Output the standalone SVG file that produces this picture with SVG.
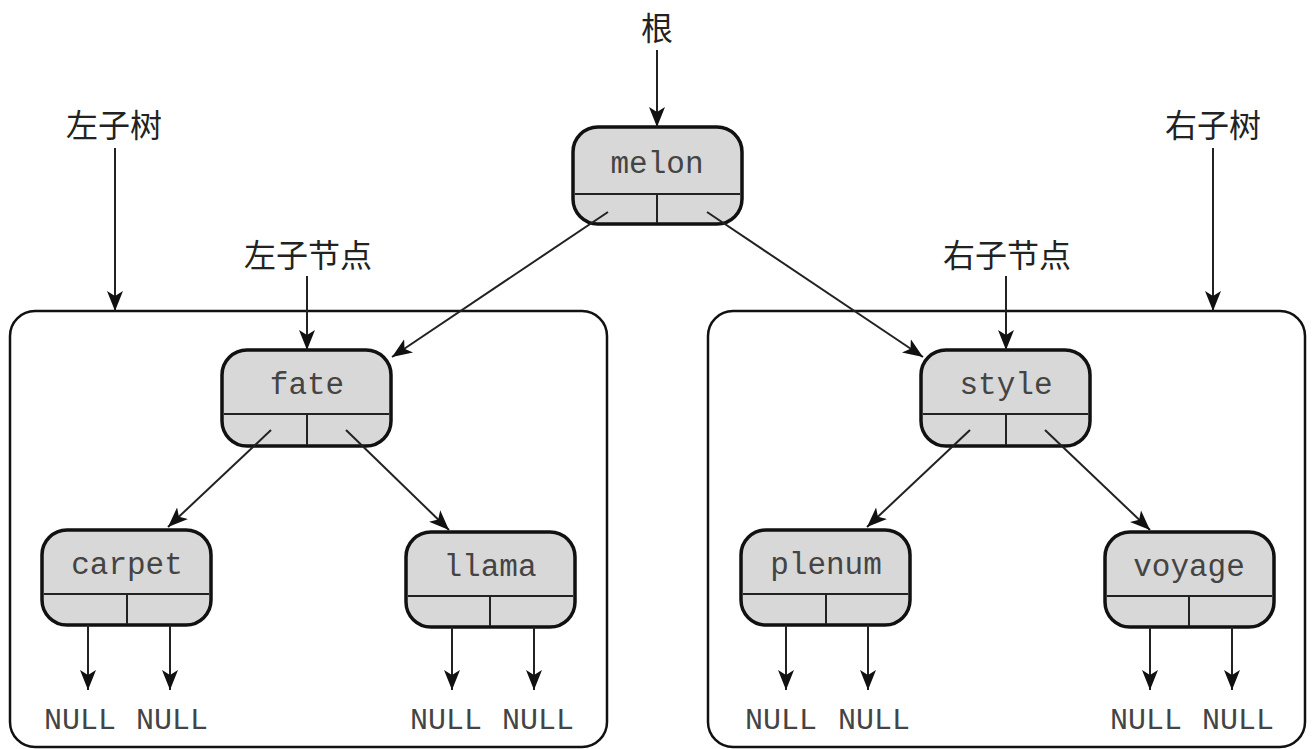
<svg xmlns="http://www.w3.org/2000/svg" width="1312" height="749" viewBox="0 0 1312 749">
<defs>
<marker id="ah" markerUnits="userSpaceOnUse" markerWidth="20" markerHeight="20" viewBox="0 0 20 16" refX="20" refY="8" orient="auto">
<path d="M0,0 L20,8 L0,16 L5,8 Z" fill="#111"/>
</marker>
<style>
.box{fill:none;stroke:#111;stroke-width:2.5}
.node{fill:#d8d8d8;stroke:#111;stroke-width:3.5}
.div{stroke:#222;stroke-width:2;fill:none}
.edge{stroke:#222;stroke-width:2;fill:none;marker-end:url(#ah)}
.lbl{font-family:"Liberation Mono",monospace;font-size:31px;fill:#444;text-anchor:middle}
.cn{font-family:"Noto Sans CJK SC",sans-serif;font-size:32px;fill:#222;text-anchor:middle}
.null{font-family:"Liberation Mono",monospace;font-size:30px;fill:#444;text-anchor:middle}
</style>
</defs>
<rect width="1312" height="749" fill="#fff"/>
<g id="left-subtree"><rect class="box" x="10" y="311" width="597" height="436" rx="25"/></g>
<g id="right-subtree"><rect class="box" x="708" y="311" width="597" height="436" rx="25"/></g>
<g id="labels">
<text class="cn" x="657" y="40">根</text>
<text class="cn" x="114" y="137">左子树</text>
<text class="cn" x="1213" y="137">右子树</text>
<text class="cn" x="308" y="267">左子节点</text>
<text class="cn" x="1007" y="267">右子节点</text>
</g>
<g id="melon"><rect class="node" x="573" y="127" width="169" height="97" rx="25"/><path class="div" d="M575,194 H740 M657,194 V223"/><text class="lbl" x="657" y="173">melon</text></g>
<g id="fate"><rect class="node" x="222" y="350" width="169" height="96" rx="25"/><path class="div" d="M224,414 H389 M307,414 V445"/><text class="lbl" x="307" y="394">fate</text></g>
<g id="style"><rect class="node" x="921" y="350" width="169" height="96" rx="25"/><path class="div" d="M923,414 H1088 M1006,414 V445"/><text class="lbl" x="1006" y="394">style</text></g>
<g id="carpet"><rect class="node" x="42" y="530" width="169" height="95" rx="25"/><path class="div" d="M44,594 H209 M127,594 V624"/><text class="lbl" x="127" y="574">carpet</text></g>
<g id="llama"><rect class="node" x="406" y="532" width="169" height="95" rx="25"/><path class="div" d="M408,596 H573 M490,596 V626"/><text class="lbl" x="490" y="576">llama</text></g>
<g id="plenum"><rect class="node" x="741" y="530" width="169" height="95" rx="25"/><path class="div" d="M743,594 H908 M826,594 V624"/><text class="lbl" x="826" y="574">plenum</text></g>
<g id="voyage"><rect class="node" x="1105" y="532" width="169" height="95" rx="25"/><path class="div" d="M1107,596 H1272 M1189,596 V626"/><text class="lbl" x="1189" y="576">voyage</text></g>
<g id="nulls">
<text class="null" x="80" y="729">NULL</text><text class="null" x="172" y="729">NULL</text>
<text class="null" x="446" y="729">NULL</text><text class="null" x="538" y="729">NULL</text>
<text class="null" x="781" y="729">NULL</text><text class="null" x="874" y="729">NULL</text>
<text class="null" x="1146" y="729">NULL</text><text class="null" x="1238" y="729">NULL</text>
</g>
<g id="connectors">
<line class="edge" x1="657" y1="50" x2="657" y2="127"/>
<line class="edge" x1="115" y1="148" x2="115" y2="311"/>
<line class="edge" x1="1213" y1="148" x2="1213" y2="311"/>
<line class="edge" x1="307" y1="276" x2="307" y2="350"/>
<line class="edge" x1="1006" y1="276" x2="1006" y2="350"/>
<line class="edge" x1="608" y1="212" x2="392" y2="357"/>
<line class="edge" x1="707" y1="212" x2="923" y2="357"/>
<line class="edge" x1="271" y1="430" x2="168" y2="527"/>
<line class="edge" x1="346" y1="430" x2="449" y2="530"/>
<line class="edge" x1="970" y1="430" x2="867" y2="527"/>
<line class="edge" x1="1045" y1="430" x2="1150" y2="530"/>
<line class="edge" x1="88" y1="625" x2="88" y2="690"/>
<line class="edge" x1="170" y1="625" x2="170" y2="690"/>
<line class="edge" x1="452" y1="627" x2="452" y2="690"/>
<line class="edge" x1="534" y1="627" x2="534" y2="690"/>
<line class="edge" x1="786" y1="625" x2="786" y2="690"/>
<line class="edge" x1="868" y1="625" x2="868" y2="690"/>
<line class="edge" x1="1150" y1="627" x2="1150" y2="690"/>
<line class="edge" x1="1232" y1="627" x2="1232" y2="690"/>
</g>
</svg>
